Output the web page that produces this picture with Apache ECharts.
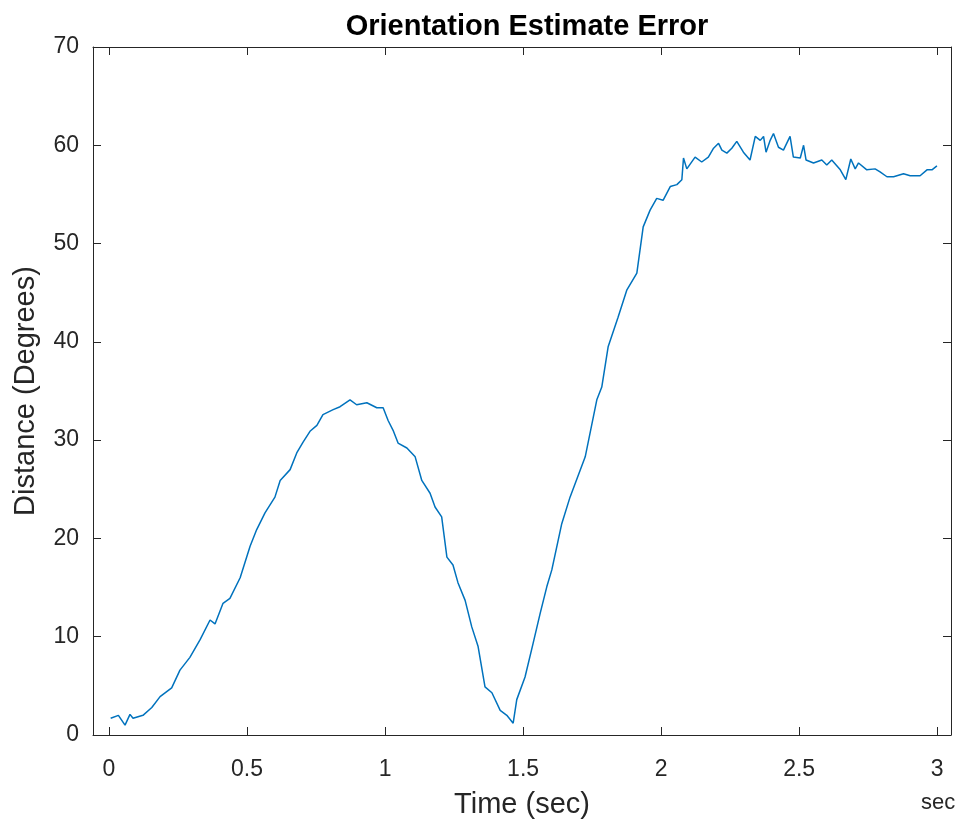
<!DOCTYPE html>
<html>
<head>
<meta charset="utf-8">
<title>Orientation Estimate Error</title>
<script src="https://cdn.jsdelivr.net/npm/echarts@6/dist/echarts.min.js"></script>
<style>
  html, body { margin: 0; padding: 0; background: #fff; }
  #chart { width: 961px; height: 819px; }
</style>
</head>
<body>
<div id="chart"></div>
<script>
// time samples (sec)
var timeSec = [
  0.006, 0.034, 0.058, 0.076, 0.087, 0.123, 0.155, 0.185, 0.227, 0.257,
  0.293, 0.330, 0.366, 0.384, 0.413, 0.438, 0.475, 0.511, 0.535, 0.565,
  0.601, 0.620, 0.656, 0.680, 0.703, 0.728, 0.753, 0.775, 0.812, 0.837,
  0.873, 0.897, 0.934, 0.970, 0.993, 1.011, 1.029, 1.047, 1.079, 1.109,
  1.133, 1.163, 1.181, 1.205, 1.224, 1.246, 1.264, 1.290, 1.314, 1.337,
  1.362, 1.387, 1.417, 1.441, 1.464, 1.477, 1.507, 1.536, 1.562, 1.586,
  1.604, 1.640, 1.670, 1.725, 1.767, 1.785, 1.808, 1.844, 1.876, 1.912,
  1.935, 1.960, 1.984, 2.007, 2.033, 2.057, 2.075, 2.081, 2.093, 2.123,
  2.147, 2.171, 2.190, 2.208, 2.220, 2.238, 2.256, 2.274, 2.298, 2.322,
  2.341, 2.359, 2.371, 2.380, 2.395, 2.407, 2.425, 2.443, 2.467, 2.479,
  2.504, 2.516, 2.525, 2.552, 2.582, 2.600, 2.618, 2.649, 2.669, 2.687,
  2.703, 2.715, 2.745, 2.775, 2.793, 2.818, 2.842, 2.878, 2.902, 2.938,
  2.963, 2.981, 2.999
];
// orientation error (degrees)
var errorDeg = [
  1.7, 2.0, 1.0, 2.1, 1.7, 2.0, 2.8, 3.9, 4.8, 6.6,
  7.9, 9.7, 11.7, 11.3, 13.4, 13.9, 16.0, 19.2, 20.9, 22.6,
  24.2, 25.9, 27.0, 28.7, 29.8, 30.9, 31.5, 32.6, 33.1, 33.4,
  34.1, 33.6, 33.8, 33.3, 33.3, 32.0, 31.0, 29.7, 29.2, 28.3,
  25.9, 24.6, 23.2, 22.2, 18.1, 17.3, 15.5, 13.7, 11.0, 9.0,
  4.9, 4.3, 2.5, 2.0, 1.2, 3.6, 5.9, 9.3, 12.4, 15.1,
  16.8, 21.5, 24.2, 28.3, 34.1, 35.4, 39.5, 42.5, 45.3, 47.0,
  51.7, 53.4, 54.6, 54.4, 55.8, 56.0, 56.5, 58.7, 57.6, 58.8,
  58.3, 58.8, 59.7, 60.2, 59.5, 59.2, 59.7, 60.4, 59.3, 58.5,
  60.9, 60.5, 60.9, 59.3, 60.5, 61.2, 59.8, 59.5, 60.9, 58.8,
  58.7, 60.0, 58.5, 58.2, 58.5, 58.0, 58.5, 57.5, 56.5, 58.6,
  57.6, 58.2, 57.5, 57.6, 57.3, 56.8, 56.8, 57.1, 56.9, 56.9,
  57.5, 57.5, 57.9
];
// tick labels
var xTicks = [0, 0.5, 1, 1.5, 2, 2.5, 3];
var yTicks = [0, 10, 20, 30, 40, 50, 60, 70];

var axisColor = '#262626';
var font = '"Liberation Sans", Arial, sans-serif';

var seriesData = [];
for (var i = 0; i < timeSec.length; i++) {
    seriesData.push([timeSec[i], errorDeg[i]]);
}

var myChart = echarts.init(document.getElementById('chart'), null, {renderer: 'canvas'});

// 坐标框：四条边都画，刻度朝里
function boxLine() {
    return {show: true, onZero: false, lineStyle: {color: axisColor, width: 1}};
}
function boxTick(vals) {
    return {show: true, inside: true, length: 8, customValues: vals, lineStyle: {color: axisColor}};
}

var option = {
    animation: false,
    backgroundColor: '#fff',
    title: {
        text: 'Orientation Estimate Error',
        left: 522,
        top: 7,
        textAlign: 'center',
        textStyle: {fontFamily: font, fontSize: 29, fontWeight: 'bold', color: '#000'}
    },
    grid: {left: 93, right: 10, top: 47, bottom: 84, containLabel: false, outerBoundsMode: 'none'},
    xAxis: [{
        type: 'value',
        min: -0.058,
        max: 3.05,
        name: 'Time (sec)',
        nameLocation: 'middle',
        nameGap: 55,
        nameTextStyle: {fontFamily: font, fontSize: 29, color: axisColor},
        axisLine: boxLine(),
        axisTick: boxTick(xTicks),
        axisLabel: {customValues: xTicks, margin: 23, fontFamily: font, fontSize: 23, color: axisColor},
        splitLine: {show: false}
    }, {
        // top side of the box
        type: 'value',
        position: 'top',
        min: -0.058,
        max: 3.05,
        axisLine: boxLine(),
        axisTick: boxTick(xTicks),
        axisLabel: {show: false},
        splitLine: {show: false}
    }],
    yAxis: [{
        type: 'value',
        min: 0,
        max: 70,
        name: 'Distance (Degrees)',
        nameLocation: 'middle',
        nameGap: 53,
        nameTextStyle: {fontFamily: font, fontSize: 29, color: axisColor},
        axisLine: boxLine(),
        axisTick: boxTick(yTicks),
        axisLabel: {customValues: yTicks, margin: 14, fontFamily: font, fontSize: 23, color: axisColor},
        splitLine: {show: false}
    }, {
        // right side of the box
        type: 'value',
        position: 'right',
        min: 0,
        max: 70,
        axisLine: boxLine(),
        axisTick: boxTick(yTicks),
        axisLabel: {show: false},
        splitLine: {show: false}
    }],
    graphic: [{
        type: 'text',
        left: 921,
        top: 792,
        style: {text: 'sec', fontFamily: font, fontSize: 22, fill: axisColor}
    }],
    series: [{
        type: 'line',
        data: seriesData,
        xAxisIndex: 0,
        yAxisIndex: 0,
        showSymbol: false,
        symbol: 'none',
        lineStyle: {color: '#0072BD', width: 1.5},
        itemStyle: {color: '#0072BD'}
    }]
};
myChart.setOption(option);
</script>
</body>
</html>
